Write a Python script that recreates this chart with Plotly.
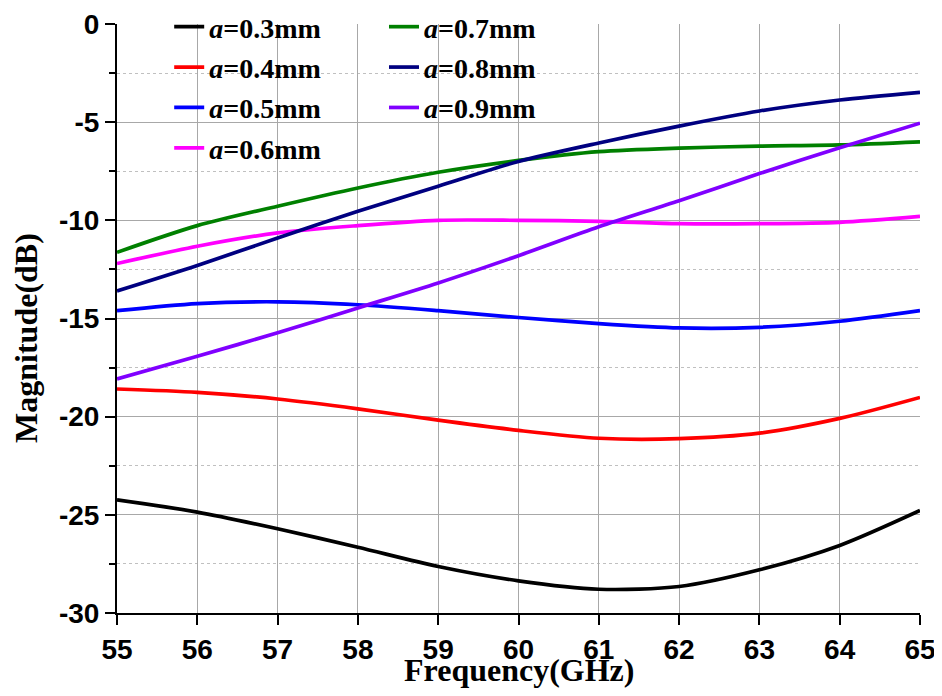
import plotly.graph_objects as go

freq = [55, 56, 57, 58, 59, 60, 61, 62, 63, 64, 65]

a03 = [-24.24, -24.86, -25.71, -26.65, -27.63, -28.36, -28.79, -28.65, -27.80, -26.56, -24.78]
a04 = [-18.59, -18.76, -19.10, -19.60, -20.18, -20.70, -21.10, -21.12, -20.84, -20.09, -19.02]
a05 = [-14.60, -14.24, -14.15, -14.30, -14.60, -14.95, -15.26, -15.48, -15.45, -15.14, -14.60]
a06 = [-12.20, -11.32, -10.64, -10.27, -10.00, -10.00, -10.05, -10.17, -10.17, -10.10, -9.80]
a07 = [-11.63, -10.27, -9.28, -8.35, -7.55, -6.95, -6.50, -6.32, -6.22, -6.16, -6.00]
a08 = [-13.60, -12.30, -10.90, -9.54, -8.26, -7.00, -6.06, -5.20, -4.43, -3.87, -3.48]
a09 = [-18.08, -16.92, -15.73, -14.46, -13.19, -11.80, -10.33, -9.00, -7.62, -6.30, -5.05]

labels = ["0.3", "0.4", "0.5", "0.6", "0.7", "0.8", "0.9"]
series = [a03, a04, a05, a06, a07, a08, a09]
colors = ["#000000", "#ff0000", "#0000ff", "#ff00ff", "#008000", "#000080", "#8000ff"]
legend_ids = ["legend", "legend", "legend", "legend", "legend2", "legend2", "legend2"]

x_ticks = list(range(55, 66))
y_ticks = [0, -5, -10, -15, -20, -25, -30]

fig = go.Figure()
for lab, ys, col, lg in zip(labels, series, colors, legend_ids):
    fig.add_trace(go.Scatter(
        x=freq, y=ys, mode="lines", name="<i>a</i>=%smm" % lab,
        line=dict(color=col, width=3.7, shape="spline", smoothing=0.8),
        legend=lg, legendgroup=lab,
    ))

tick_font = dict(family="Liberation Sans", size=28, color="black", weight="bold")
leg_font = dict(family="Liberation Serif", size=28, color="black", weight="bold")

fig.update_layout(
    width=934, height=680,
    margin=dict(l=109, r=22, t=16, b=75, autoexpand=False),
    paper_bgcolor="white", plot_bgcolor="white",
    showlegend=True,
    legend=dict(x=0.065, y=1.0374, xanchor="left", yanchor="top",
                font=leg_font, bgcolor="rgba(0,0,0,0)", borderwidth=0,
                tracegroupgap=1),
    legend2=dict(x=0.3325, y=1.0374, xanchor="left", yanchor="top",
                 font=leg_font, bgcolor="rgba(0,0,0,0)", borderwidth=0,
                 tracegroupgap=1),
    xaxis=dict(range=[55, 65], tickvals=x_ticks, ticktext=[str(v) for v in x_ticks],
               showline=True, linecolor="black", linewidth=2, automargin=False,
               ticks="outside", ticklen=10, tickwidth=2, tickcolor="black",
               showgrid=True, gridcolor="#a8a8a8", gridwidth=1,
               zeroline=False, tickfont=tick_font),
    yaxis=dict(range=[-30, 0], tickvals=y_ticks, ticktext=[str(v) for v in y_ticks],
               showline=True, linecolor="black", linewidth=2, automargin=False,
               ticks="outside", ticklen=10, tickwidth=2, tickcolor="black",
               showgrid=True, gridcolor="#a8a8a8", gridwidth=1,
               zeroline=False, tickfont=tick_font,
               minor=dict(dtick=2.5, ticks="outside", ticklen=6, tickwidth=2,
                          tickcolor="black", showgrid=True, gridcolor="#c0c0c0",
                          griddash="dot", gridwidth=1)),
    annotations=[
        dict(text="Frequency(GHz)", x=0.5, y=-0.0968, xref="paper", yref="paper",
             xanchor="center", yanchor="middle", showarrow=False,
             font=dict(family="Liberation Serif", size=32, color="black", weight="bold")),
        dict(text="Magnitude(dB)", x=-0.1133, y=0.467, xref="paper", yref="paper",
             xanchor="center", yanchor="middle", showarrow=False, textangle=-90,
             font=dict(family="Liberation Serif", size=32, color="black", weight="bold")),
    ],
)

fig.write_html("out.html")
